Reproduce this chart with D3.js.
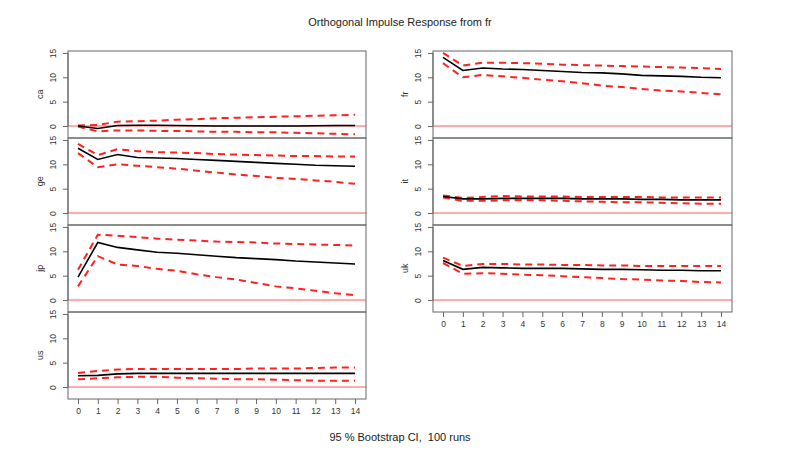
<!DOCTYPE html>
<html>
<head>
<meta charset="utf-8">
<script src="https://cdn.jsdelivr.net/npm/d3@7"></script>
<style>
html,body{margin:0;padding:0;background:#fff;}
svg{display:block;font-family:"Liberation Sans",Arial,sans-serif;}
</style>
</head>
<body>
<svg id="chart" width="800" height="450"></svg>
<script>
// ---- data ----
const horizons = d3.range(0, 15);
const xTickLabels = ["0","1","2","3","4","5","6","7","8","9","10","11","12","13","14"];
const yTickValues = [0, 5, 10, 15];

const variablesLeft = ["ca", "ge", "jp", "us"];
const variablesRight = ["fr", "it", "uk"];

const caIrf   = [0, -0.5, 0.1, 0.15, 0.15, 0.1, 0.05, 0, 0, 0, 0, 0, 0.05, 0.1, 0.1];
const caUpper = [0.1, 0.2, 0.9, 1.0, 1.1, 1.3, 1.4, 1.6, 1.7, 1.8, 1.9, 2.0, 2.1, 2.2, 2.3];
const caLower = [-0.1, -1.1, -0.9, -0.9, -1.0, -1.0, -1.1, -1.2, -1.2, -1.3, -1.3, -1.4, -1.5, -1.6, -1.7];

const geIrf   = [13.3, 11.0, 12.0, 11.4, 11.3, 11.2, 11.0, 10.8, 10.6, 10.4, 10.2, 10.0, 9.8, 9.7, 9.6];
const geUpper = [14.2, 11.9, 13.1, 12.7, 12.5, 12.4, 12.3, 12.1, 12.0, 11.9, 11.8, 11.7, 11.7, 11.6, 11.6];
const geLower = [12.3, 9.4, 10.0, 9.7, 9.4, 9.1, 8.7, 8.3, 7.9, 7.6, 7.2, 7.0, 6.7, 6.4, 6.0];

const jpIrf   = [4.7, 11.8, 10.8, 10.3, 9.8, 9.6, 9.3, 9.0, 8.7, 8.5, 8.3, 8.0, 7.8, 7.6, 7.4];
const jpUpper = [6.2, 13.4, 13.2, 12.9, 12.6, 12.4, 12.2, 12.0, 11.9, 11.8, 11.6, 11.5, 11.4, 11.3, 11.2];
const jpLower = [2.8, 9.0, 7.3, 7.0, 6.4, 6.0, 5.3, 4.7, 4.2, 3.5, 2.8, 2.4, 1.9, 1.4, 1.0];

const usIrf   = [2.3, 2.4, 2.7, 2.8, 2.8, 2.8, 2.8, 2.8, 2.8, 2.8, 2.8, 2.8, 2.8, 2.8, 2.8];
const usUpper = [2.9, 3.3, 3.6, 3.7, 3.7, 3.7, 3.7, 3.7, 3.7, 3.8, 3.8, 3.8, 3.9, 4.0, 4.0];
const usLower = [1.6, 1.8, 2.0, 2.1, 2.1, 1.9, 1.8, 1.7, 1.6, 1.6, 1.5, 1.4, 1.3, 1.3, 1.3];

const frIrf   = [14.1, 11.4, 11.9, 11.7, 11.6, 11.4, 11.2, 11.0, 10.9, 10.7, 10.4, 10.3, 10.2, 10.0, 9.9];
const frUpper = [15.0, 12.4, 13.0, 13.0, 12.9, 12.8, 12.6, 12.5, 12.4, 12.3, 12.2, 12.1, 12.0, 11.9, 11.7];
const frLower = [12.9, 10.0, 10.5, 10.2, 9.9, 9.5, 9.2, 8.8, 8.3, 8.0, 7.6, 7.3, 7.1, 6.8, 6.5];

const itIrf   = [3.4, 2.9, 2.9, 3.0, 3.0, 3.0, 3.0, 2.9, 2.9, 2.9, 2.8, 2.8, 2.7, 2.7, 2.7];
const itUpper = [3.6, 3.1, 3.3, 3.5, 3.4, 3.4, 3.4, 3.3, 3.3, 3.3, 3.3, 3.2, 3.2, 3.2, 3.2];
const itLower = [3.2, 2.5, 2.5, 2.6, 2.6, 2.6, 2.5, 2.4, 2.3, 2.2, 2.2, 2.1, 2.0, 1.9, 1.9];

const ukIrf   = [8.1, 6.3, 6.7, 6.6, 6.5, 6.5, 6.5, 6.4, 6.3, 6.3, 6.2, 6.1, 6.1, 6.0, 6.0];
const ukUpper = [8.7, 7.0, 7.4, 7.4, 7.3, 7.3, 7.2, 7.2, 7.1, 7.1, 7.0, 7.0, 7.0, 7.0, 7.0];
const ukLower = [7.6, 5.4, 5.5, 5.4, 5.2, 5.1, 4.9, 4.7, 4.5, 4.3, 4.2, 4.0, 3.9, 3.7, 3.6];

const titleText = "Orthogonal Impulse Response from fr";
const footText = "95 % Bootstrap CI,  100 runs";

const series = {
  ca: [caIrf, caUpper, caLower],
  ge: [geIrf, geUpper, geLower],
  jp: [jpIrf, jpUpper, jpLower],
  us: [usIrf, usUpper, usLower],
  fr: [frIrf, frUpper, frLower],
  it: [itIrf, itUpper, itLower],
  uk: [ukIrf, ukUpper, ukLower]
};

// ---- layout ----
const svg = d3.select("#chart");
const panelH = 87;
const topY = 51;
const yDomain = [-2.46, 15.4];

svg.append("text").attr("x", 400).attr("y", 26).attr("text-anchor", "middle")
  .attr("font-size", 11).attr("fill", "#222").text(titleText);
svg.append("text").attr("x", 400).attr("y", 441).attr("text-anchor", "middle")
  .attr("font-size", 11).attr("fill", "#222").style("white-space", "pre")
  .attr("xml:space", "preserve").text(footText);

function drawColumn(vars, left, width, labelX) {
  const x = d3.scaleLinear().domain([0, 14]).range([left + 10, left + width - 11]);
  vars.forEach((v, i) => {
    const top = topY + i * panelH;
    const y = d3.scaleLinear().domain(yDomain).range([top + panelH, top]);
    const g = svg.append("g");
    // zero line
    g.append("line").attr("x1", left).attr("x2", left + width)
      .attr("y1", y(0)).attr("y2", y(0))
      .attr("stroke", "#ff3030").attr("stroke-opacity", 0.8).attr("stroke-width", 1);
    const line = d3.line().x((d, k) => x(horizons[k])).y(d => y(d));
    const [irf, up, lo] = series[v];
    [up, lo].forEach(arr => {
      g.append("path").attr("d", line(arr)).attr("fill", "none")
        .attr("stroke", "#ff2020").attr("stroke-width", 2)
        .attr("stroke-dasharray", "7,5");
    });
    g.append("path").attr("d", line(irf)).attr("fill", "none")
      .attr("stroke", "#000").attr("stroke-width", 1.6);
    // box
    g.append("rect").attr("x", left).attr("y", top).attr("width", width).attr("height", panelH)
      .attr("fill", "none").attr("stroke", "#666").attr("stroke-width", 1);
    // y axis
    const ya = d3.axisLeft(y).tickValues(yTickValues).tickSize(5).tickPadding(3).tickSizeOuter(0);
    const ag = g.append("g").attr("transform", `translate(${left},0)`).call(ya);
    ag.select(".domain").attr("d", `M0,${y(15)}V${y(0)}`).attr("stroke", "#666");
    ag.selectAll(".tick line").attr("stroke", "#666");
    ag.selectAll(".tick text")
      .attr("font-size", 8.5).attr("fill", "#333")
      .attr("text-anchor", "middle").attr("dy", 0)
      .attr("transform", "translate(-12,0) rotate(-90)")
      .attr("x", 0).attr("y", 0);
    // variable label
    g.append("text").attr("transform", `translate(${labelX},${y(6.5)}) rotate(-90)`)
      .attr("text-anchor", "middle").attr("font-size", 9).attr("fill", "#333").text(v);
    if (i === vars.length - 1) {
      const xa = d3.axisBottom(x).tickValues(horizons).tickFormat((d, k) => xTickLabels[k])
        .tickSize(5).tickPadding(4).tickSizeOuter(0);
      const xg = g.append("g").attr("transform", `translate(0,${top + panelH})`).call(xa);
      xg.select(".domain").remove();
      xg.selectAll(".tick line").attr("stroke", "#666");
      xg.selectAll(".tick text").attr("font-size", 8.5).attr("fill", "#333");
    }
  });
}

drawColumn(variablesLeft, 68, 298, 43);
drawColumn(variablesRight, 433, 299, 408);
</script>
</body>
</html>
